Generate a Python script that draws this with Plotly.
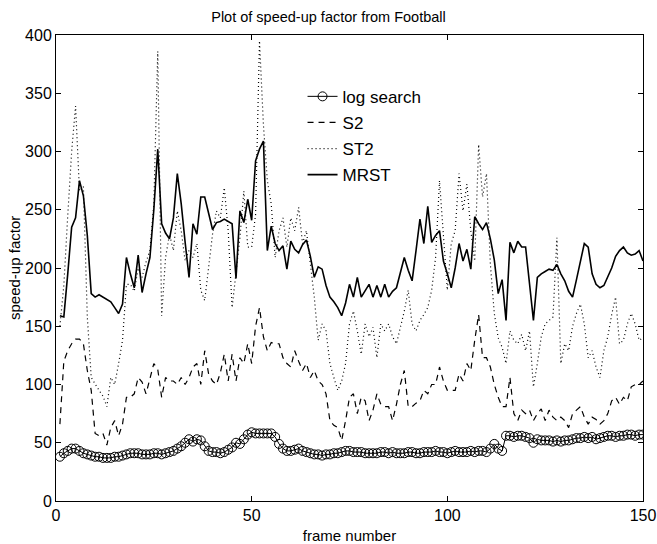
import plotly.graph_objects as go

frames = list(range(1, 151))

log_search = [38, 41, 43, 45, 45, 43, 41, 40, 39, 38, 38, 37, 37, 37, 38, 38, 39, 40, 41, 41,
              41, 40, 40, 40, 41, 41, 40, 41, 42, 43, 45, 47, 50, 53, 51, 53, 52, 47, 43, 42,
              42, 41, 42, 44, 46, 50, 49, 53, 57, 59, 58, 58, 58, 58, 58, 55, 49, 45, 43, 43,
              44, 45, 43, 42, 41, 40, 40, 39, 40, 40, 41, 41, 42, 43, 43, 42, 42, 42, 41, 41,
              41, 41, 42, 42, 41, 42, 41, 41, 41, 42, 42, 41, 41, 42, 42, 42, 43, 42, 42, 41,
              42, 43, 42, 42, 42, 43, 42, 43, 43, 42, 45, 49, 45, 43, 56, 56, 55, 56, 56, 55,
              54, 50, 53, 52, 52, 52, 51, 52, 51, 52, 52, 53, 54, 54, 55, 54, 55, 53, 54, 55,
              56, 56, 55, 56, 56, 57, 57, 56, 57, 57]

s2 = [66, 120, 129, 135, 139, 139, 135, 112, 95, 58, 56, 58, 48, 63, 69, 56, 66, 89, 89, 92,
      106, 102, 92, 106, 118, 113, 89, 106, 103, 103, 100, 106, 100, 106, 115, 118, 100, 129, 109, 103,
      100, 110, 126, 103, 126, 103, 123, 118, 135, 118, 150, 166, 141, 129, 136, 135, 135, 123, 118, 115,
      129, 120, 112, 118, 106, 112, 103, 100, 92, 69, 65, 63, 52, 69, 89, 92, 75, 89, 86, 69,
      78, 92, 83, 81, 81, 69, 83, 100, 112, 81, 81, 84, 86, 95, 92, 100, 100, 115, 103, 95,
      95, 95, 109, 103, 118, 112, 138, 160, 123, 123, 115, 100, 89, 81, 81, 106, 75, 69, 78, 75,
      78, 69, 75, 79, 69, 78, 72, 69, 72, 69, 63, 75, 78, 81, 72, 66, 72, 70, 66, 69,
      75, 86, 89, 83, 89, 86, 98, 100, 100, 103]

st2 = [150, 185, 245, 300, 339, 266, 270, 158, 106, 100, 95, 90, 81, 106, 100, 118, 138, 186, 186, 180,
       200, 192, 205, 215, 255, 386, 159, 209, 229, 215, 249, 232, 206, 215, 209, 221, 181, 172, 203, 229,
       249, 243, 269, 232, 166, 198, 226, 266, 218, 218, 246, 395, 323, 275, 255, 209, 232, 243, 218, 243,
       232, 252, 221, 232, 203, 175, 138, 152, 146, 118, 106, 95, 103, 118, 152, 163, 146, 126, 152, 141,
       149, 123, 152, 146, 152, 141, 135, 150, 163, 181, 152, 146, 155, 160, 166, 181, 209, 275, 232, 181,
       221, 232, 281, 249, 272, 232, 206, 306, 261, 281, 203, 161, 140, 132, 118, 146, 138, 135, 143, 129,
       146, 98, 118, 141, 152, 155, 158, 226, 118, 135, 129, 150, 161, 169, 152, 123, 129, 115, 106, 129,
       141, 160, 175, 135, 138, 152, 161, 152, 138, 140]

mrst = [159, 158, 195, 235, 243, 275, 262, 228, 178, 175, 177, 175, 173, 171, 166, 161, 169, 209, 195, 183,
        211, 179, 195, 209, 250, 302, 238, 230, 225, 243, 281, 255, 222, 192, 238, 229, 261, 261, 247, 233,
        239, 240, 242, 240, 238, 191, 249, 239, 259, 241, 292, 302, 309, 215, 236, 221, 215, 219, 199, 223,
        216, 213, 220, 224, 210, 192, 201, 199, 185, 175, 171, 166, 159, 170, 186, 175, 192, 175, 180, 186,
        175, 185, 175, 186, 175, 180, 183, 195, 209, 198, 189, 215, 242, 221, 253, 222, 228, 232, 206, 195,
        183, 200, 221, 206, 216, 199, 244, 238, 233, 239, 225, 207, 178, 190, 155, 222, 213, 223, 218, 218,
        186, 155, 192, 195, 197, 199, 198, 203, 195, 189, 180, 175, 190, 205, 221, 218, 195, 186, 183, 185,
        192, 200, 210, 215, 218, 213, 211, 212, 215, 206]

FONT = "Liberation Sans, Arial, Helvetica, sans-serif"

fig = go.Figure()
fig.add_trace(go.Scatter(x=frames, y=log_search, name="log search", mode="lines+markers",
                         line=dict(color="black", width=1),
                         marker=dict(symbol="circle-open", size=9, color="black", line=dict(width=1)),
                         legendgroup="a"))
fig.add_trace(go.Scatter(x=frames, y=s2, name="S2", mode="lines",
                         line=dict(color="black", width=1.2, dash="6px,5px"), legendgroup="b"))
fig.add_trace(go.Scatter(x=frames, y=st2, name="ST2", mode="lines",
                         line=dict(color="black", width=1.2, dash="1px,3px"), legendgroup="c"))
fig.add_trace(go.Scatter(x=frames, y=mrst, name="MRST", mode="lines",
                         line=dict(color="black", width=1.6), legendgroup="d"))

axis_common = dict(showgrid=False, zeroline=False, showline=True, linecolor="black", linewidth=1,
                   mirror="ticks", ticks="inside", ticklen=5, tickcolor="black", automargin=False,
                   tickfont=dict(family=FONT, size=16, color="black"))

fig.update_layout(
    width=657, height=544,
    margin=dict(l=56, r=14, t=35, b=43),
    paper_bgcolor="white", plot_bgcolor="white",
    font=dict(family=FONT, color="black", size=13),
    title=dict(text="Plot of speed-up factor from Football", x=0.5, xanchor="center",
               y=0.969, yanchor="middle", font=dict(family=FONT, size=14.5, color="black")),
    xaxis=dict(range=[0, 150], tickvals=[0, 50, 100, 150],
               title=dict(text="frame number", font=dict(family=FONT, size=15)),
               **axis_common),
    yaxis=dict(range=[0, 400], tickvals=list(range(0, 401, 50)),
               **axis_common),
    annotations=[dict(text="speed-up factor", textangle=-90, xref="paper", yref="paper",
                      x=(14 - 56) / 587, y=0.5, xanchor="center", yanchor="middle",
                      showarrow=False, font=dict(family=FONT, size=15, color="black"))],
    legend=dict(x=0.42, y=0.906, xanchor="left", yanchor="top", bgcolor="rgba(0,0,0,0)",
                borderwidth=0, font=dict(family=FONT, size=17, color="black"),
                traceorder="grouped", tracegroupgap=1, itemwidth=30),
    showlegend=True,
)

fig.write_html("out.html")
